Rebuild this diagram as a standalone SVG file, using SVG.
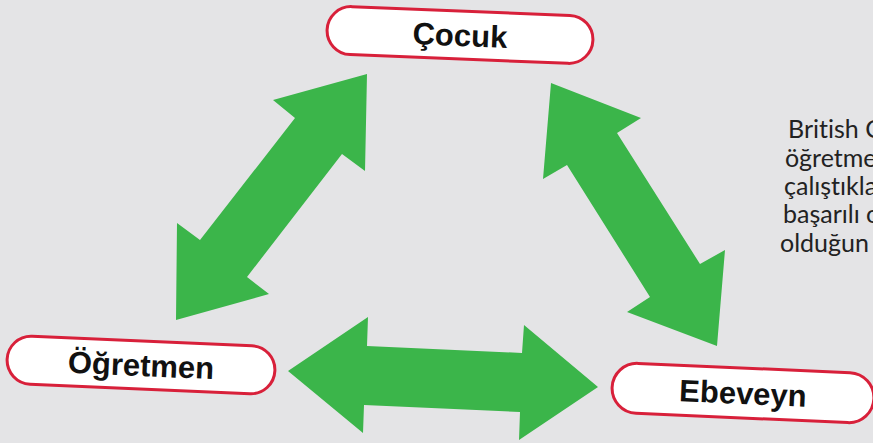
<svg xmlns="http://www.w3.org/2000/svg" width="873" height="443" viewBox="0 0 873 443">
<style>
.lbl{fill:#fff;stroke:#d8203a;stroke-width:3}
.lt{font-family:"Liberation Sans",Arial,sans-serif;font-weight:bold;font-size:31px;fill:#111;text-anchor:middle}
.arr{fill:#3bb54a}
.side{font-family:Lato,"Open Sans",sans-serif;font-weight:400;font-size:25px;fill:#222;font-variant-ligatures:none}
</style>
<rect width="873" height="443" fill="#e4e4e6"/>
<g id="connectors">
<polygon class="arr" points="367,74 273,100 295,118 200,240 177,223 176,320 269,294 247,277 342,154 365,171"/>
<polygon class="arr" points="551,83 641,118 617,133 700,264 725,250 717,346 627,312 650,297 567,165 543,179"/>
<polygon class="arr" points="288,371 368,317 367,346 522,353 524,325 598,387 519,440 520,412 364,405 363,433"/>
</g>
<g id="cocuk" transform="translate(460,35) rotate(2.3)">
<rect class="lbl" x="-133" y="-24" width="266" height="48" rx="24"/>
<text class="lt" x="0" y="11">Çocuk</text>
</g>
<g id="ogretmen" transform="translate(141,365) rotate(2.5)">
<rect class="lbl" x="-134" y="-24" width="268" height="48" rx="24"/>
<text class="lt" x="0" y="11">Öğretmen</text>
</g>
<g id="ebeveyn" transform="translate(743,393) rotate(2.5)">
<rect class="lbl" x="-131" y="-25" width="262" height="50" rx="25"/>
<text class="lt" x="0" y="11">Ebeveyn</text>
</g>
<g id="note">
<text class="side" x="788" y="138">British C</text>
<text class="side" x="785" y="167">öğretme</text>
<text class="side" x="784" y="195">çalıştıkla</text>
<text class="side" x="783" y="223">başarılı o</text>
<text class="side" x="780" y="252">olduğun</text>
</g>
</svg>
